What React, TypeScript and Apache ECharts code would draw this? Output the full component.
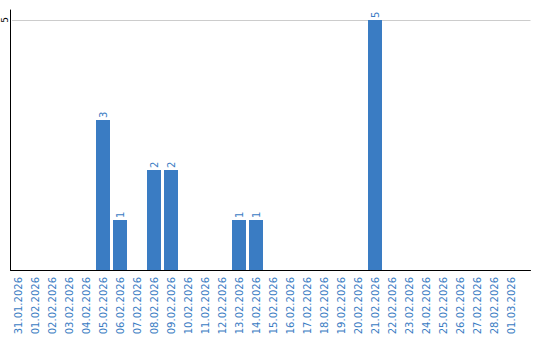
import React, { useEffect, useRef } from "react";
import * as echarts from "echarts";

const categories = [
  "31.01.2026", "01.02.2026", "02.02.2026", "03.02.2026", "04.02.2026",
  "05.02.2026", "06.02.2026", "07.02.2026", "08.02.2026", "09.02.2026",
  "10.02.2026", "11.02.2026", "12.02.2026", "13.02.2026", "14.02.2026",
  "15.02.2026", "16.02.2026", "17.02.2026", "18.02.2026", "19.02.2026",
  "20.02.2026", "21.02.2026", "22.02.2026", "23.02.2026", "24.02.2026",
  "25.02.2026", "26.02.2026", "27.02.2026", "28.02.2026", "01.03.2026",
];
const values = [
  0, 0, 0, 0, 0,
  3, 1, 0, 2, 2,
  0, 0, 0, 1, 1,
  0, 0, 0, 0, 0,
  0, 5, 0, 0, 0,
  0, 0, 0, 0, 0,
];
const yTickLabels = [5];

const BLUE = "#3a7cc3";
const FONT = "DejaVu Sans";

const hiddenAxis = {
  axisLine: { show: false },
  axisTick: { show: false },
  axisLabel: { show: false },
  splitLine: { show: false },
};

export default function App() {
  const ref = useRef<HTMLDivElement>(null);
  useEffect(() => {
    if (!ref.current) return;
    const chart = echarts.init(ref.current, null, { renderer: "svg" });
    chart.setOption({
      animation: false,
      grid: [
        // bars
        { left: 9.5, width: 510, top: 20, height: 250 },
        // split line + y label
        { left: 10.5, right: 9.5, top: 20, height: 250 },
        // axis lines
        { left: 10.5, right: 9.5, top: 10, height: 260 },
      ],
      xAxis: [
        {
          type: "category",
          gridIndex: 0,
          data: categories,
          axisLine: { show: false },
          axisTick: { show: false },
          axisLabel: {
            rotate: 90,
            interval: 0,
            margin: 7,
            color: BLUE,
            fontSize: 10,
            fontFamily: FONT,
          },
        },
        { type: "value", gridIndex: 1, min: 0, max: 1, ...hiddenAxis },
        {
          type: "value",
          gridIndex: 2,
          min: 0,
          max: 1,
          axisLine: { show: true, onZero: false, lineStyle: { color: "#000", width: 1 } },
          axisTick: { show: false },
          axisLabel: { show: false },
          splitLine: { show: false },
        },
      ],
      yAxis: [
        { type: "value", gridIndex: 0, min: 0, max: 5, ...hiddenAxis },
        {
          type: "value",
          gridIndex: 1,
          min: 0,
          max: 5,
          interval: 5,
          axisLine: { show: false },
          axisTick: { show: false },
          splitLine: { show: true, lineStyle: { color: "#cccccc", width: 1 } },
          axisLabel: {
            rotate: 90,
            margin: 3,
            color: "#000",
            fontSize: 9,
            fontFamily: FONT,
            formatter: (v: number) => (yTickLabels.includes(v) ? String(v) : ""),
          },
        },
        {
          type: "value",
          gridIndex: 2,
          min: 0,
          max: 1,
          axisLine: { show: true, onZero: false, lineStyle: { color: "#000", width: 1 } },
          axisTick: { show: false },
          axisLabel: { show: false },
          splitLine: { show: false },
        },
      ],
      series: [
        {
          type: "bar",
          xAxisIndex: 0,
          yAxisIndex: 0,
          data: values,
          barWidth: 14,
          itemStyle: { color: BLUE },
          label: {
            show: true,
            position: "top",
            rotate: 90,
            align: "left",
            verticalAlign: "middle",
            distance: 2,
            color: BLUE,
            fontSize: 10,
            fontFamily: FONT,
            formatter: (p: any) => (p.value ? String(p.value) : ""),
          },
        },
      ],
    });
    return () => chart.dispose();
  }, []);
  return (
    <div
      ref={ref}
      style={{ position: "fixed", left: 0, top: 0, width: 540, height: 340, background: "#fff" }}
    />
  );
}
